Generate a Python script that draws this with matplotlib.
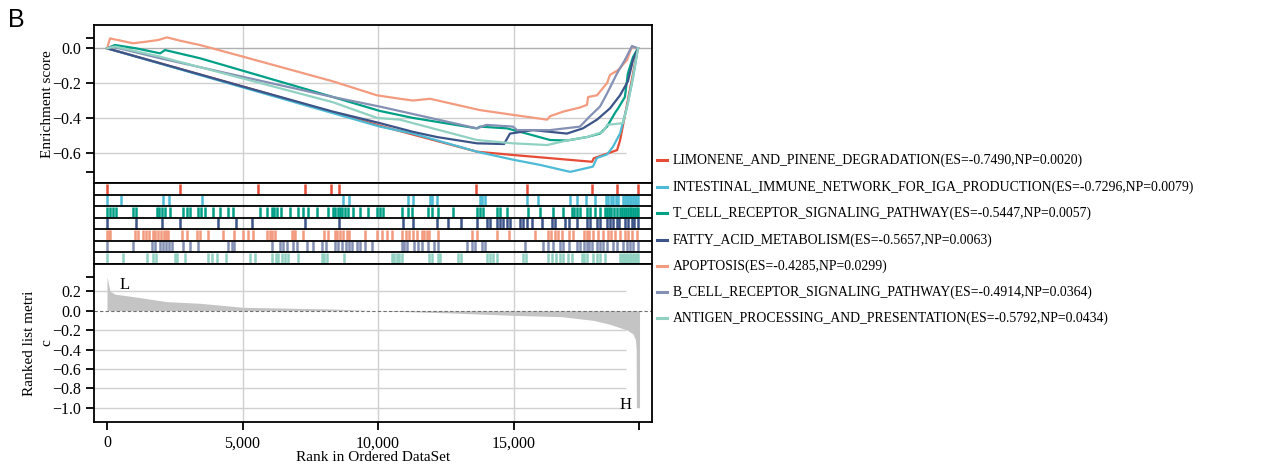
import matplotlib
matplotlib.use("Agg")
import matplotlib.pyplot as plt
from matplotlib.lines import Line2D

plt.rcParams["font.family"] = "Liberation Serif"

# gene sets, stats and npg colours
set_names = ["LIMONENE_AND_PINENE_DEGRADATION", "INTESTINAL_IMMUNE_NETWORK_FOR_IGA_PRODUCTION",
             "T_CELL_RECEPTOR_SIGNALING_PATHWAY", "FATTY_ACID_METABOLISM", "APOPTOSIS",
             "B_CELL_RECEPTOR_SIGNALING_PATHWAY", "ANTIGEN_PROCESSING_AND_PRESENTATION"]
es_values = [-0.7490, -0.7296, -0.5447, -0.5657, -0.4285, -0.4914, -0.5792]
np_values = [0.0020, 0.0079, 0.0057, 0.0063, 0.0299, 0.0364, 0.0434]
colors = ["#E64B35", "#4DBBD5", "#00A087", "#3C5488", "#F39B7F", "#8491B4", "#91D1C2"]

n_genes = 19620

# running enrichment score
limonene_rank = [0, 5020, 10070, 13650, 14980, 17900, 17960, 18820, 18930, 19590]
limonene_es = [0, -0.22, -0.445, -0.594, -0.613, -0.652, -0.632, -0.585, -0.53, 0.0]
intestinal_rank = [0, 5020, 10070, 11290, 13650, 14980, 15980, 17090, 17930, 18080, 18450,
                   18670, 18930, 19190, 19410, 19590]
intestinal_es = [0, -0.225, -0.45, -0.49, -0.594, -0.64, -0.67, -0.71, -0.68, -0.63, -0.61,
                 -0.566, -0.49, -0.335, -0.17, 0.0]
tcell_rank = [0, 290, 1070, 1960, 2140, 3430, 8340, 10070, 11290, 13650, 13760, 14760, 15720,
              16350, 16970, 17710, 18190, 18450, 18750, 18860, 19110, 19220, 19410, 19590]
tcell_es = [0, 0.019, 0.0, -0.029, -0.01, -0.057, -0.28, -0.36, -0.40, -0.46, -0.45, -0.46,
            -0.50, -0.527, -0.53, -0.51, -0.49, -0.45, -0.37, -0.345, -0.28, -0.144, -0.05, 0.0]
fatty_rank = [0, 5020, 8340, 10070, 11290, 12180, 13650, 14650, 14870, 15720, 16970, 17560,
              18080, 18560, 18930, 19220, 19410, 19590]
fatty_es = [0, -0.22, -0.364, -0.43, -0.48, -0.51, -0.546, -0.55, -0.49, -0.47, -0.49, -0.46,
            -0.41, -0.345, -0.27, -0.19, -0.067, 0.0]
apoptosis_rank = [0, 111, 960, 1440, 1900, 2210, 2690, 3430, 5020, 8340, 9960, 10810, 11290,
                  11920, 13760, 14870, 16240, 16350, 16830, 17450, 17710, 17750, 18080, 18450,
                  18560, 18860, 19190, 19370, 19590]
apoptosis_es = [0, 0.057, 0.029, 0.038, 0.048, 0.063, 0.044, 0.019, -0.048, -0.19, -0.27, -0.29,
                -0.30, -0.29, -0.355, -0.38, -0.41, -0.39, -0.364, -0.34, -0.325, -0.28, -0.27,
                -0.20, -0.153, -0.125, -0.067, 0.01, 0.0]
bcell_rank = [0, 180, 1960, 8340, 10070, 13650, 14000, 14980, 15130, 16350, 17450, 17820,
              18190, 18450, 18820, 19110, 19370, 19590]
bcell_es = [0, 0.01, -0.057, -0.28, -0.335, -0.46, -0.44, -0.45, -0.47, -0.47, -0.45, -0.39,
            -0.335, -0.26, -0.144, -0.067, 0.013, 0.0]
antigen_rank = [0, 300, 1960, 8340, 9960, 10810, 11290, 13650, 14980, 16240, 16970, 17710,
                18300, 18450, 19040, 19220, 19410, 19590]
antigen_es = [0, 0.01, -0.048, -0.31, -0.40, -0.41, -0.43, -0.527, -0.546, -0.556, -0.53, -0.51,
              -0.48, -0.44, -0.43, -0.316, -0.163, 0.0]

# hit positions (rank of each gene of the set)
limonene_hits = [5, 2690, 5570, 7310, 8270, 8560, 13620, 15500, 17900, 18820, 19590]
intestinal_hits = [5, 520, 2060, 2300, 3520, 8720, 8930, 11120, 11280, 11920, 12000, 12190,
                   13760, 13830, 13950, 15510, 15920, 17090, 17330, 17680, 18010, 18410, 18500,
                   18600, 18680, 18780, 18870, 19050, 19110, 19170, 19230, 19290, 19350, 19410,
                   19470, 19530, 19590]
tcell_hits = [5, 110, 210, 330, 950, 1070, 1830, 1920, 2030, 2140, 2330, 2790, 2940, 3060, 3370,
              3480, 3620, 3900, 4170, 4480, 4660, 5650, 5890, 6080, 6160, 6260, 6420, 6750, 7060,
              7240, 7430, 7740, 8170, 8350, 8410, 8510, 8600, 8680, 8780, 8900, 9090, 9340, 9640,
              9950, 10070, 10200, 10900, 11120, 11240, 11860, 11980, 12230, 12780, 13640, 13760,
              13890, 14380, 14500, 14750, 15550, 15980, 16450, 16820, 17150, 17240, 17330, 17450,
              17720, 17820, 18010, 18190, 18380, 18450, 18530, 18610, 18690, 18810, 18930, 19000,
              19070, 19140, 19210, 19280, 19350, 19420, 19490, 19560, 19610]
fatty_hits = [5, 1070, 2020, 2690, 4110, 4750, 5340, 7310, 8570, 10930, 11280, 12170, 12590,
              13060, 13640, 14010, 14130, 14380, 14500, 14620, 14750, 14870, 15240, 15360, 15490,
              15670, 16040, 16410, 16530, 16900, 17030, 17330, 17700, 17820, 18070, 18190, 18440,
              18560, 18680, 18810, 18910, 19110, 19240, 19360, 19460, 19600]
apoptosis_hits = [5, 60, 120, 1030, 1160, 1320, 1440, 1560, 1690, 1770, 1890, 1980, 2100, 2180,
                  2260, 2760, 2940, 3310, 3430, 3740, 4290, 4700, 5010, 5210, 5400, 5890, 6000,
                  6100, 6200, 6820, 6900, 6940, 7240, 8020, 8170, 8410, 8500, 8600, 8720, 8850,
                  8930, 9520, 9950, 10140, 10320, 10530, 10900, 11020, 11140, 11300, 11430, 11610,
                  11700, 11800, 11880, 12200, 13460, 13640, 14380, 14850, 15790, 16280, 16400,
                  16530, 16650, 16780, 17060, 17210, 17600, 17700, 17800, 17950, 18130, 18310,
                  18500, 18600, 18750, 18930, 19110, 19240, 19360, 19550]
bcell_hits = [5, 950, 1650, 1770, 1960, 2070, 2180, 2290, 2390, 2820, 3060, 3370, 4480, 4600,
              4690, 6080, 6380, 6510, 6630, 6880, 7000, 7370, 7610, 7950, 8070, 8410, 8530, 8660,
              8810, 8930, 9030, 9210, 9340, 9520, 9790, 10870, 10970, 11060, 11340, 11490, 11610,
              11860, 12080, 12200, 13270, 13460, 13580, 13830, 13950, 15420, 16100, 16280, 16450,
              16720, 16840, 17060, 17330, 17450, 17600, 17700, 17800, 17900, 18070, 18190, 18310,
              18460, 18680, 18810, 19050, 19180, 19300, 19420, 19590]
antigen_hits = [5, 600, 1470, 1710, 1810, 2510, 2590, 2880, 3740, 3860, 4050, 4390, 5280, 5460,
                6080, 6240, 6320, 6450, 6570, 6690, 7060, 7920, 8010, 8100, 8760, 10510, 10600,
                10690, 10780, 10880, 11880, 11980, 12200, 12290, 12940, 13060, 14010, 14130,
                14260, 14380, 15360, 15460, 16280, 16410, 16570, 16720, 16840, 17020, 17150,
                17520, 17600, 17700, 17950, 18070, 18190, 18380, 18930, 19000, 19070, 19140,
                19210, 19280, 19350, 19420, 19490, 19560, 19600]

# ranked list metric
metric_rank = [0, 37, 111, 295, 960, 2210, 3430, 5020, 8340, 10070, 12550, 14980, 16790,
               17950, 18560, 19190, 19410, 19500, 19525, 19535, 19650]
metric_value = [0.35, 0.30, 0.20, 0.17, 0.145, 0.093, 0.076, 0.035, 0.017, -0.002, -0.022,
                -0.048, -0.062, -0.10, -0.14, -0.20, -0.24, -0.30, -0.40, -1.0, -1.0]

es_curves = [(limonene_rank, limonene_es), (intestinal_rank, intestinal_es),
             (tcell_rank, tcell_es), (fatty_rank, fatty_es), (apoptosis_rank, apoptosis_es),
             (bcell_rank, bcell_es), (antigen_rank, antigen_es)]
hit_lists = [limonene_hits, intestinal_hits, tcell_hits, fatty_hits, apoptosis_hits,
             bcell_hits, antigen_hits]

W, H = 1263, 468
fig = plt.figure(figsize=(W / 100, H / 100), dpi=100)


def box(left, top, right, bottom):
    return [left / W, 1 - bottom / H, (right - left) / W, (bottom - top) / H]


xlim = (-480, 20110)
grid_c = "#d0d0d0"
spine_w = 1.3

ax1 = fig.add_axes(box(94, 25, 652, 183))
ax2 = fig.add_axes(box(94, 183, 652, 264))
ax3 = fig.add_axes(box(94, 264, 652, 422))

for ax in (ax1, ax2, ax3):
    ax.set_xlim(*xlim)
    for s in ax.spines.values():
        s.set_linewidth(spine_w)
    for xv in (5000, 10000, 15000):
        ax.axvline(xv, color=grid_c, lw=1, zorder=0)

# enrichment score panel
ax1.set_ylim(-0.774, 0.134)
ax1.axhline(0, color="#b0b0b0", lw=1, zorder=0)
ax1.hlines([-0.2, -0.4, -0.6], xlim[0], 19150, color=grid_c, lw=1, zorder=0)
for (r, e), c in zip(es_curves, colors):
    ax1.plot(r, e, color=c, lw=1.6)
ax1.set_xticks([])
ax1.set_yticks([0.057, 0.0, -0.2, -0.4, -0.6, -0.71])
ax1.set_yticklabels(["", "0.0", "\u22120.2", "\u22120.4", "\u22120.6", ""])
ax1.tick_params(axis="y", length=6, width=spine_w, labelsize=11.5)
ax1.set_ylabel("Enrichment score", fontsize=11)
ax1.yaxis.set_label_coords(-0.072, 0.5)

# hit strips
ax2.set_ylim(7, 0)
for i, (hits, c) in enumerate(zip(hit_lists, colors)):
    ax2.vlines(hits, i + 0.05, i + 0.95, color=c, lw=1.8)
ax2.hlines(range(1, 7), xlim[0], xlim[1], color="black", lw=spine_w)
ax2.set_xticks([])
ax2.set_yticks([])

# ranked list metric
ax3.set_ylim(-1.147, 0.481)
ax3.hlines([0.2, -0.2, -0.4, -0.6, -0.8, -1.0], xlim[0], 19150, color=grid_c, lw=1, zorder=0)
ax3.fill_between(metric_rank, 0, metric_value, color="#c4c4c4", lw=0, zorder=1)
ax3.axhline(0, color="#707070", lw=0.8, ls=(0, (3, 2)), zorder=2)
ax3.set_yticks([0.35, 0.2, 0.0, -0.2, -0.4, -0.6, -0.8, -1.0])
ax3.set_yticklabels(["", "0.2", "0.0", "\u22120.2", "\u22120.4", "\u22120.6", "\u22120.8", "\u22121.0"])
ax3.set_xticks([0, 5000, 10000, 15000, n_genes])
ax3.set_xticklabels(["0", "5,000", "10,000", "15,000", ""])
ax3.tick_params(length=6, width=spine_w, labelsize=11.5)
ax3.set_ylabel("Ranked list metri\nc", fontsize=11, linespacing=1.45)
ax3.yaxis.set_label_coords(-0.072, 0.5)
ax3.set_xlabel("Rank in Ordered DataSet", fontsize=11, labelpad=0)
ax3.text(660, 0.265, "L", fontsize=12, va="center", ha="center")
ax3.text(19150, -0.97, "H", fontsize=12, va="center", ha="center")

# legend drawn by hand on the right
legend_y = [160, 187, 213, 240, 266, 292, 318]
for name, es, npv, c, y in zip(set_names, es_values, np_values, colors, legend_y):
    fig.add_artist(Line2D([657 / W, 667 / W], [1 - y / H, 1 - y / H], color=c, lw=2.2,
                          transform=fig.transFigure))
    fig.text(673 / W, 1 - y / H, f"{name}(ES={es:.4f},NP={npv:.4f})", fontsize=9.9,
             va="center", ha="left")

fig.text(8 / W, 1 - 20 / H, "B", fontsize=18, family="Liberation Sans", va="center", ha="left")

fig.savefig("out.png", dpi=100)
